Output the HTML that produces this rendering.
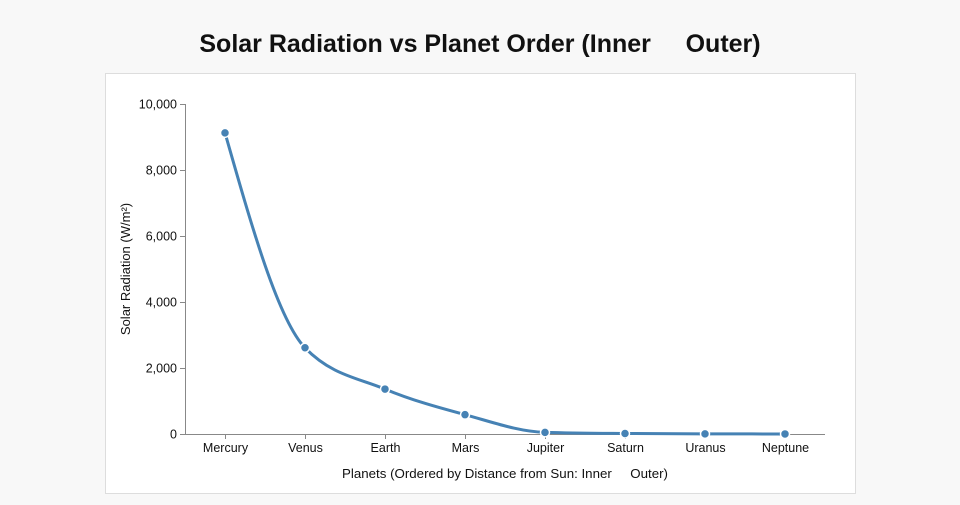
<!DOCTYPE html>
<html><head><meta charset="utf-8"><style>
body{margin:0;background:#f8f8f8;width:960px;height:500px;overflow:hidden;font-family:"Liberation Sans","DejaVu Sans",sans-serif}
</style></head><body>
<svg width="960" height="500" xmlns="http://www.w3.org/2000/svg">
<text x="480" y="52" text-anchor="middle" font-size="25" font-weight="bold" fill="#111" xml:space="preserve">Solar Radiation vs Planet Order (Inner     Outer)</text>
<rect x="105.5" y="73.5" width="750" height="420" fill="#fff" stroke="#ddd"/>
<g id="axes"></g>
<g id="marks"></g>
<text transform="translate(130,269) rotate(-90)" text-anchor="middle" font-size="13" fill="#111">Solar Radiation (W/m²)</text>
<text x="505" y="478" text-anchor="middle" font-size="13.3" fill="#111" xml:space="preserve">Planets (Ordered by Distance from Sun: Inner     Outer)</text>
</svg>
<script>
const planets=["Mercury","Venus","Earth","Mars","Jupiter","Saturn","Uranus","Neptune"];
const radiation=[9126,2613,1361,586,50,15,3.7,1.5];
const yTicks=[0,2000,4000,6000,8000,10000];
const yTickLabels=["0","2,000","4,000","6,000","8,000","10,000"];
const NS="http://www.w3.org/2000/svg";
const x0=185,x1=825,y0=434,y1=104,yMax=10000;
const step=(x1-x0)/planets.length;
const xs=i=>x0+step*(i+0.5);
const ys=v=>y0-(v/yMax)*(y0-y1);
function mk(t,a,p){const e=document.createElementNS(NS,t);for(const k in a)e.setAttribute(k,a[k]);p.appendChild(e);return e;}
const ax=document.getElementById('axes'),mg=document.getElementById('marks');
let l=mk('line',{x1:x0,y1:y0+0.5,x2:x1,y2:y0+0.5,stroke:'#888'},ax);


l=mk('line',{x1:x0+0.5,y1:y1,x2:x0+0.5,y2:y0,stroke:'#888'},ax);


yTicks.forEach((v,i)=>{const y=Math.round(ys(v))+0.5;
 mk('line',{x1:x0-5,y1:y,x2:x0,y2:y,stroke:'#888'},ax);
 const t=mk('text',{x:x0-8,y:y+4,'text-anchor':'end','font-size':12.5,fill:'#111'},ax);t.textContent=yTickLabels[i];
 
 });
planets.forEach((p,i)=>{const x=xs(i)+0.5;
 mk('line',{x1:x,y1:y0,x2:x,y2:y0+5,stroke:'#888'},ax);
 const t=mk('text',{x:x,y:y0+18,'text-anchor':'middle','font-size':12.5,fill:'#111'},ax);t.textContent=p;
 
 });
const P=radiation.map((v,i)=>[xs(i),ys(v)]);const n=P.length;
const d=[],m=[];for(let i=0;i<n-1;i++)d.push((P[i+1][1]-P[i][1])/(P[i+1][0]-P[i][0]));
for(let i=0;i<n;i++){if(i==0)m.push(d[0]);else if(i==n-1)m.push(d[n-2]);else{if(d[i-1]*d[i]<=0)m.push(0);else{m.push((Math.sign(d[i-1])+Math.sign(d[i]))*Math.min(Math.abs(d[i-1]),Math.abs(d[i]),0.5*Math.abs((d[i-1]+d[i])/2)));}}}
m[0]=(3*d[0]-m[1])/2;m[n-1]=(3*d[n-2]-m[n-2])/2;
let path=`M${P[0][0]},${P[0][1]}`;
for(let i=0;i<n-1;i++){const h=(P[i+1][0]-P[i][0])/3;path+=`C${P[i][0]+h},${P[i][1]+h*m[i]},${P[i+1][0]-h},${P[i+1][1]-h*m[i+1]},${P[i+1][0]},${P[i+1][1]}`;}
const ln=mk('path',{d:path,fill:'none',stroke:'#4682b4','stroke-width':3},mg);


P.forEach((p,i)=>{const c=mk('circle',{cx:p[0],cy:p[1],r:4.5,fill:'#4682b4',stroke:'#fff','stroke-width':1.5},mg);
 
 });
</script>
</body></html>
